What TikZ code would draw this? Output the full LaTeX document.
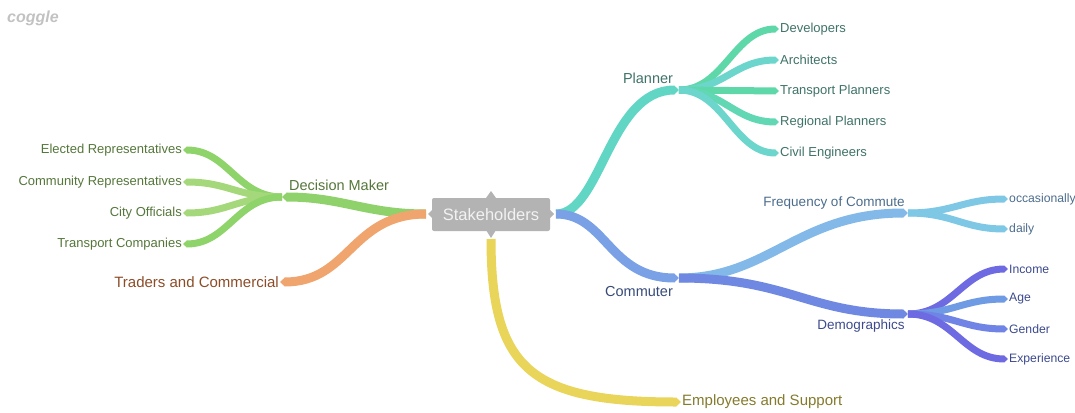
\documentclass[tikz,border=0pt]{standalone}
\usepackage{fontspec}
\setmainfont{Liberation Sans}
\usetikzlibrary{arrows.meta}
\definecolor{cPlan}{HTML}{62D6C4}
\definecolor{cMint}{HTML}{5ED8A8}
\definecolor{cTeal}{HTML}{6CD6CC}
\definecolor{tPlan}{HTML}{3F7268}
\definecolor{cComm}{HTML}{7AA0E6}
\definecolor{tComm}{HTML}{374A78}
\definecolor{cFreq}{HTML}{82B9E8}
\definecolor{cFreqK}{HTML}{7EC8E6}
\definecolor{tFreq}{HTML}{4B6C8C}
\definecolor{cDemo}{HTML}{6F88E2}
\definecolor{cInc}{HTML}{6E6AE2}
\definecolor{cAge}{HTML}{6F9AE4}
\definecolor{cGen}{HTML}{6F84E4}
\definecolor{tDemo}{HTML}{3C4A8C}
\definecolor{cDec}{HTML}{8FD16A}
\definecolor{cDecA}{HTML}{8ED46A}
\definecolor{cDecB}{HTML}{A4D87A}
\definecolor{tDec}{HTML}{55763A}
\definecolor{cTrad}{HTML}{F0A56E}
\definecolor{tTrad}{HTML}{8C4C28}
\definecolor{cEmp}{HTML}{E8D55A}
\definecolor{tEmp}{HTML}{857A2C}
\definecolor{cCenter}{HTML}{B3B3B3}
\begin{document}
\begin{tikzpicture}[x=1pt,y=-1pt,
  mainbr/.style={line width=9pt,-{Triangle[length=5pt,width=9pt]}},
  subbr/.style={line width=7pt,-{Triangle[length=4pt,width=7pt]}},
  lbl/.style={inner sep=1pt,font=\fontsize{14.5}{16}\selectfont},
  leaf/.style={inner sep=1pt,font=\fontsize{13}{15}\selectfont},
  small/.style={inner sep=1pt,font=\fontsize{12.2}{14}\selectfont},
]
\useasboundingbox (0,0) rectangle (1075,412);
\node[text=black!24,font=\fontsize{16}{18}\selectfont\itshape\bfseries] (logo) at (33,18) {coggle};

% centre
\fill[cCenter] (486,198) -- (491,191) -- (496,198) -- cycle;
\fill[cCenter] (486,230) -- (491,238) -- (496,230) -- cycle;
\fill[cCenter] (433,209) -- (428,214) -- (433,219) -- cycle;
\fill[cCenter] (549,209) -- (554,214) -- (549,219) -- cycle;
\node[fill=cCenter,rounded corners=2pt,minimum width=118pt,minimum height=33pt,inner sep=0pt,text=white!95!black,font=\fontsize{16.5}{18}\selectfont] (S) at (491,214.5) {Stakeholders};
\coordinate (sR) at (556,214);
\coordinate (sL) at (426,214);
\coordinate (sB) at (491,239);

% junctions
\coordinate (pl) at (679,90);
\coordinate (cm) at (679,278);
\coordinate (fq) at (908,213);
\coordinate (dm) at (908,314);
\coordinate (dk) at (282,197);

% labels
\node[lbl,text=tPlan] (plT) at (648,78) {Planner};
\node[lbl,text=tComm] (cmT) at (639,292) {Commuter};
\node[lbl,text=tFreq,font=\fontsize{13.5}{15}\selectfont] (fqT) at (834,203) {Frequency of Commute};
\node[lbl,text=tDemo,font=\fontsize{13.5}{15}\selectfont] (dmT) at (861,326) {Demographics};
\node[lbl,text=tDec] (dkT) at (339,185) {Decision Maker};
\node[lbl,text=tTrad,anchor=east,font=\fontsize{15}{17}\selectfont] (tr) at (280,282) {Traders and Commercial};
\node[lbl,text=tEmp,anchor=west,font=\fontsize{15}{17}\selectfont] (em) at (681,402) {Employees and Support};

\node[leaf,text=tPlan,anchor=west] (dev) at (779,29) {Developers};
\node[leaf,text=tPlan,anchor=west] (arc) at (779,60) {Architects};
\node[leaf,text=tPlan,anchor=west] (tpl) at (779,91) {Transport Planners};
\node[leaf,text=tPlan,anchor=west] (rpl) at (779,122) {Regional Planners};
\node[leaf,text=tPlan,anchor=west] (civ) at (779,153) {Civil Engineers};

\node[small,text=tFreq,anchor=west] (occ) at (1008,199) {occasionally};
\node[small,text=tFreq,anchor=west] (dai) at (1008,229) {daily};

\node[small,text=tDemo,anchor=west] (inc) at (1008,269) {Income};
\node[small,text=tDemo,anchor=west] (age) at (1008,299) {Age};
\node[small,text=tDemo,anchor=west] (gen) at (1008,329) {Gender};
\node[small,text=tDemo,anchor=west] (exp) at (1008,359) {Experience};

\node[leaf,text=tDec,anchor=east] (ele) at (183,150) {Elected Representatives};
\node[leaf,text=tDec,anchor=east] (com) at (183,182) {Community Representatives};
\node[leaf,text=tDec,anchor=east] (cty) at (183,213) {City Officials};
\node[leaf,text=tDec,anchor=east] (trc) at (183,244) {Transport Companies};

% main branches
\draw[mainbr,cPlan] (sR) .. controls +(45,0) and +(-70,0) .. (pl);
\draw[mainbr,cComm] (sR) .. controls +(50,0) and +(-70,0) .. (cm);
\draw[mainbr,cFreq] (cm) .. controls +(90,0) and +(-110,0) .. (fq);
\draw[mainbr,cDemo] (cm) .. controls +(110,0) and +(-100,0) .. (dm);
\draw[mainbr,cDec] (sL) .. controls +(-60,0) and +(60,0) .. (dk);
\draw[mainbr,cTrad] (sL) .. controls +(-75,0) and +(70,0) .. (tr.east);
\draw[mainbr,cEmp] (sB) .. controls +(0,130) and +(-150,0) .. (em.west);

% planner leaves
\draw[subbr,cMint] (pl) .. controls +(45,0) and +(-45,0) .. (dev.west);
\draw[subbr,cTeal] (pl) .. controls +(45,0) and +(-45,0) .. (arc.west);
\draw[subbr,cMint] (pl) -- (tpl.west);
\draw[subbr,cMint!70!cTeal] (pl) .. controls +(45,0) and +(-45,0) .. (rpl.west);
\draw[subbr,cTeal] (pl) .. controls +(45,0) and +(-45,0) .. (civ.west);

% frequency leaves
\draw[subbr,cFreqK] (fq) .. controls +(45,0) and +(-45,0) .. (occ.west);
\draw[subbr,cFreqK] (fq) .. controls +(45,0) and +(-45,0) .. (dai.west);

% demographics leaves
\draw[subbr,cInc] (dm) .. controls +(45,0) and +(-45,0) .. (inc.west);
\draw[subbr,cAge] (dm) .. controls +(45,0) and +(-45,0) .. (age.west);
\draw[subbr,cGen] (dm) .. controls +(45,0) and +(-45,0) .. (gen.west);
\draw[subbr,cInc] (dm) .. controls +(45,0) and +(-45,0) .. (exp.west);

% decision leaves
\draw[subbr,cDecA] (dk) .. controls +(-45,0) and +(45,0) .. (ele.east);
\draw[subbr,cDecB] (dk) .. controls +(-45,0) and +(45,0) .. (com.east);
\draw[subbr,cDecB] (dk) .. controls +(-45,0) and +(45,0) .. (cty.east);
\draw[subbr,cDecA] (dk) .. controls +(-45,0) and +(45,0) .. (trc.east);
\end{tikzpicture}
\end{document}
